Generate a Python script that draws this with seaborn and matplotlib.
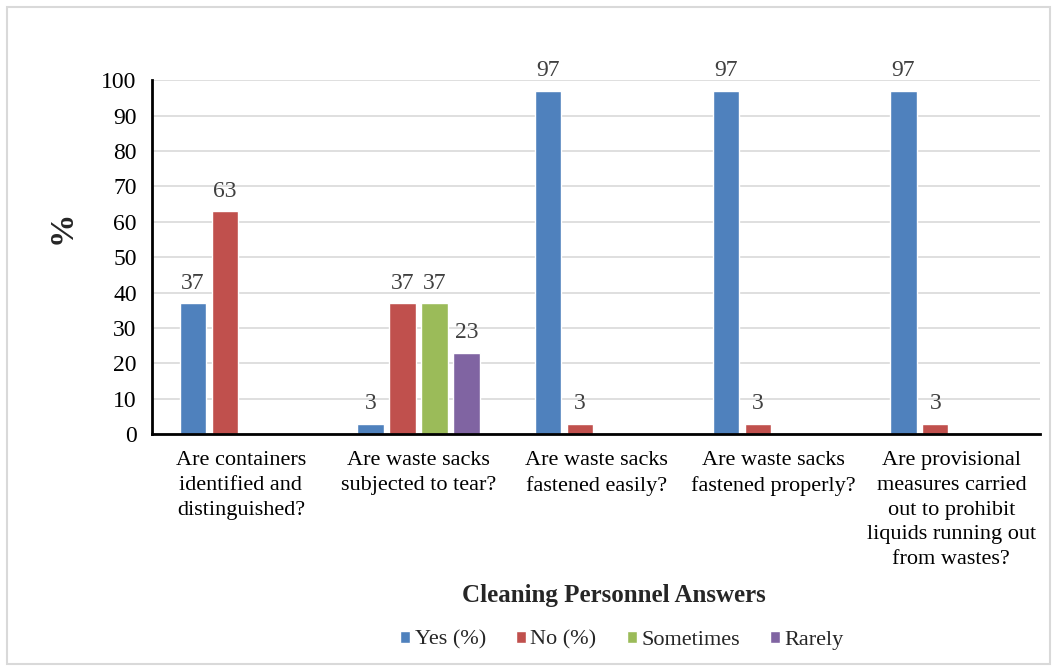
import matplotlib
matplotlib.use("Agg")
import matplotlib.pyplot as plt
from matplotlib.patches import Rectangle
import seaborn as sns
import pandas as pd

categories = [
    "Are containers\nidentified and\ndistinguished?",
    "Are waste sacks\nsubjected to tear?",
    "Are waste sacks\nfastened easily?",
    "Are waste sacks\nfastened properly?",
    "Are provisional\nmeasures carried\nout to prohibit\nliquids running out\nfrom wastes?",
]
series = ["Yes (%)", "No (%)", "Sometimes", "Rarely"]
yes_pct = [37, 3, 97, 97, 97]
no_pct = [63, 37, 3, 3, 3]
sometimes_pct = [0, 37, 0, 0, 0]
rarely_pct = [0, 23, 0, 0, 0]
colors = ["#4F81BD", "#C0504D", "#9BBB59", "#8064A2"]
y_ticks = [0, 10, 20, 30, 40, 50, 60, 70, 80, 90, 100]

rows = []
for name, vals in zip(series, [yes_pct, no_pct, sometimes_pct, rarely_pct]):
    for cat, v in zip(categories, vals):
        rows.append({"Question": cat, "Answer": name, "Value": v})
df = pd.DataFrame(rows)

sns.set_style("white")
plt.rcParams["font.family"] = ["Liberation Serif", "DejaVu Serif"]

fig = plt.figure(figsize=(10.56, 6.69), dpi=100)
ax = fig.add_axes([0.144, 0.351, 0.841, 0.529])

sns.barplot(data=df, x="Question", y="Value", hue="Answer",
            order=categories, hue_order=series, palette=colors,
            width=0.72, gap=0.18, saturation=1, ax=ax, legend=True)

for container in ax.containers:
    labels = [f"{v:g}" if v > 0 else "" for v in container.datavalues]
    ax.bar_label(container, labels=labels, padding=7, fontsize=17,
                 color="#404040")

ax.set_ylim(0, 100)
ax.set_yticks(y_ticks)
ax.set_xlim(-0.5, len(categories) - 0.5)
ax.yaxis.grid(True, color="#D9D9D9", linewidth=1.2)
ax.set_axisbelow(True)
for side in ["top", "right"]:
    ax.spines[side].set_visible(False)
for side in ["left", "bottom"]:
    ax.spines[side].set_color("black")
    ax.spines[side].set_linewidth(2)
ax.tick_params(axis="y", length=0, labelsize=17, colors="black", pad=11)
ax.tick_params(axis="x", length=0, labelsize=16, colors="black", pad=12)
for lbl in ax.get_xticklabels():
    lbl.set_linespacing(1.42)

ax.set_ylabel("%", fontsize=24, fontweight="bold")
ax.yaxis.set_label_coords(-0.084, 0.585)
ax.set_xlabel("Cleaning Personnel Answers", fontsize=18, fontweight="bold")
ax.xaxis.set_label_coords(0.52, -0.424)

leg = ax.legend(loc="center", bbox_to_anchor=(0.529, -0.582), ncol=4,
                frameon=False, fontsize=16, handlelength=0.45,
                handleheight=0.45, handletextpad=0.2, columnspacing=1.35)

fig.patches.append(Rectangle((0.007, 0.008), 0.987, 0.982,
                             transform=fig.transFigure, fill=False,
                             edgecolor="#D9D9D9", linewidth=1.5))

fig.savefig("out.png", dpi=100)
